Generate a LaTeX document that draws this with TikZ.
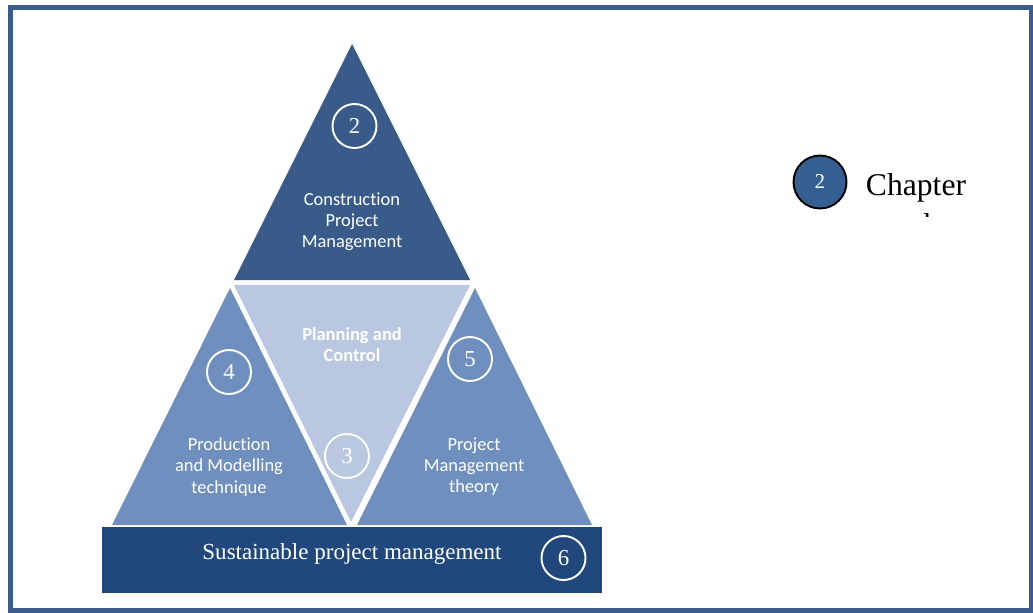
\documentclass[tikz,border=0pt]{standalone}
\usepackage{fontspec}
\setmainfont{Liberation Serif}
\newfontfamily\calibrifont[Ligatures=NoCommon]{Carlito}
\usetikzlibrary{positioning}
\definecolor{framebleu}{RGB}{59,93,140}
\definecolor{darkbleu}{RGB}{56,91,138}
\definecolor{midbleu}{RGB}{111,143,191}
\definecolor{lightbleu}{RGB}{185,199,224}
\definecolor{barbleu}{RGB}{33,72,125}
\definecolor{legbleu}{RGB}{54,95,145}

\begin{document}
\begin{tikzpicture}[x=0.02cm, y=-0.02cm, chapnum/.style={draw=white, circle, line width=1.1pt, minimum size=0.88cm, inner sep=0pt, text=white, font=\fontsize{13}{13}\selectfont}, areatext/.style={text=white, align=center, font=\calibrifont\fontsize{10.5}{12}\selectfont}]
		\useasboundingbox (0,0) rectangle (1033,612);
		\draw[framebleu, line width=0.1cm] (10.5,7.5) rectangle (1031.5,610.5);
		
		% corners of the pyramid
		\coordinate (top0) at (352,44);
		\coordinate (top1) at (234,280);
		\coordinate (top2) at (470,280);
		\coordinate (mid0) at (234,285);
		\coordinate (mid1) at (470,285);
		\coordinate (mid2) at (351,522);
		\coordinate (left0) at (230,288);
		\coordinate (left1) at (112,525);
		\coordinate (left2) at (347,525);
		\coordinate (right0) at (475,288);
		\coordinate (right1) at (357,525);
		\coordinate (right2) at (592,525);
		
		\fill[darkbleu] (top0) -- (top1) -- (top2) -- cycle;
		\fill[lightbleu] (mid0) -- (mid1) -- (mid2) -- cycle;
		\fill[midbleu] (left0) -- (left1) -- (left2) -- cycle;
		\fill[midbleu] (right0) -- (right1) -- (right2) -- cycle;
		\fill[barbleu] (102,527) rectangle (602,593);
		
		\node[chapnum](num2) at (354.5,126) {2};
		\node[chapnum](num3) at (347,456) {3};
		\node[chapnum](num4) at (229,372) {4};
		\node[chapnum](num5) at (470,359) {5};
		\node[chapnum](num6) at (563.5,558) {6};
		
		\node[areatext](cpm) at (352,222) {Construction\\Project\\Management};
		\node[areatext, font=\calibrifont\bfseries\fontsize{10.5}{12}\selectfont](plan) at (352,344.5) {Planning and\\Control};
		\node[areatext](prod) at (229,467) {Production\\and Modelling\\technique};
		\node[areatext](pmt) at (474,467) {Project\\Management\\theory};
		\node[text=white, font=\fontsize{13.1}{14}\selectfont](spm) at (352,554) {Sustainable project management};
		
		\node[draw=black, fill=legbleu, circle, line width=1.1pt, minimum size=1.06cm, inner sep=0pt, text=white, font=\fontsize{12}{12}\selectfont](legend0) at (820,182) {2};
		\begin{scope}
		\clip (840,140) rectangle (1020,216.5);
		\node[anchor=base, font=\fontsize{18}{22}\selectfont](legendtext) at (916,195) {Chapter};
		\node[anchor=base, font=\fontsize{18}{22}\selectfont](legendnext) at (916,235.5) {number};
		\end{scope}
		\end{tikzpicture}
\end{document}
